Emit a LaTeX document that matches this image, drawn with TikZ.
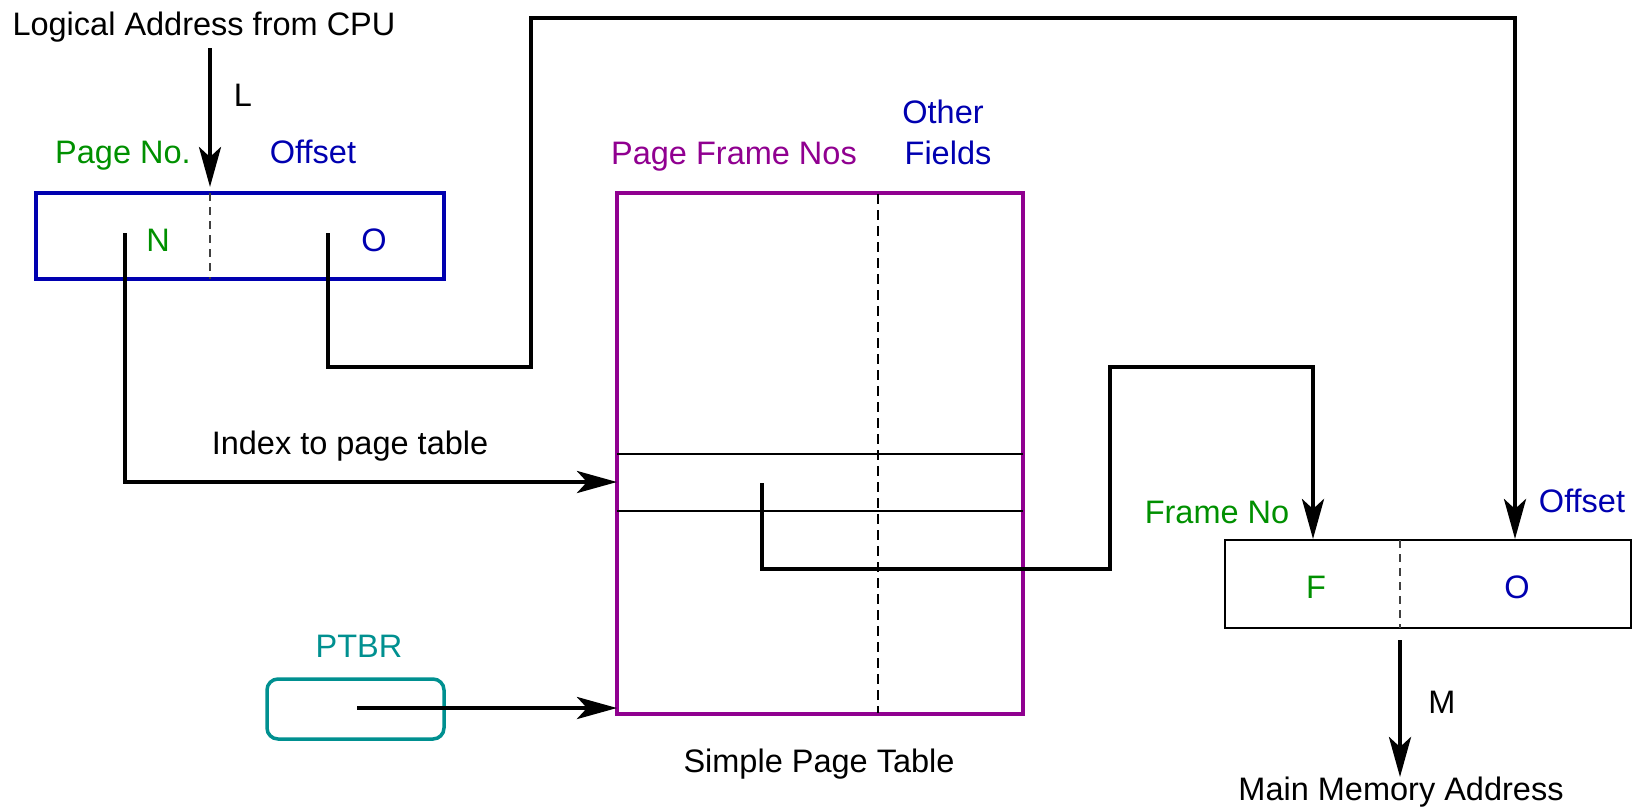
\documentclass[tikz,border=0pt]{standalone}
\usepackage{fontspec}
\setmainfont{Liberation Sans}
\usetikzlibrary{arrows.meta}

\definecolor{pgreen}{HTML}{009000}
\definecolor{pblue}{HTML}{0000B0}
\definecolor{ppurple}{HTML}{900090}
\definecolor{pteal}{HTML}{009090}

\tikzset{
  lbl/.style={inner sep=0pt, anchor=base, font=\fontsize{16.25}{20.5}\selectfont},
  boxnode/.style={rectangle, inner sep=0pt, outer sep=0pt},
  wire/.style={line width=2.25pt, line join=miter},
  arrowwire/.style={wire, -{Stealth[length=20pt, width=11pt, inset=5pt]}},
  rowline/.style={line width=0.65pt},
  thindash/.style={line width=0.6pt, draw=black!75, dash pattern=on 4pt off 3pt},
  tabledash/.style={line width=0.75pt, dash pattern=on 5pt off 3pt},
}

\begin{document}
\begin{tikzpicture}[x=0.5pt, y=-0.5pt]
\useasboundingbox (0,0) rectangle (1633,810);

% logical address register
\node[boxnode, draw=pblue, line width=1.75pt, minimum width=204pt, minimum height=43pt] (addr) at (240,236) {};
\draw[thindash] (210,193) -- (210,279);

% page table
\node[boxnode, draw=ppurple, line width=1.75pt, minimum width=203pt, minimum height=260.5pt] (table) at (820,453.5) {};
\draw[tabledash] (878,194) -- (878,713);
\draw[rowline] (617,454) -- (1023,454);
\draw[rowline] (617,511) -- (1023,511);

% physical address register
\node[boxnode, draw=black, line width=0.65pt, minimum width=203pt, minimum height=44pt] (phys) at (1428,584) {};
\draw[thindash] (1400,540) -- (1400,628);

% page table base register
\node[boxnode, draw=pteal, line width=1.75pt, rounded corners=5.5pt, minimum width=88.5pt, minimum height=30pt] (ptbr) at (355.5,709) {};

% connector end points
\coordinate (lsrc) at (210,48);
\coordinate (ltip) at (210,187);
\coordinate (nsrc) at (125,233);
\coordinate (idx) at (617,482);
\coordinate (osrc) at (328,233);
\coordinate (otip) at (1515,539);
\coordinate (fsrc) at (762,483);
\coordinate (ftip) at (1313,539);
\coordinate (psrc) at (357,708);
\coordinate (pbase) at (617,708);
\coordinate (msrc) at (1400,640);
\coordinate (mtip) at (1400,777);

% connectors
\draw[arrowwire] (lsrc) -- (ltip);
\draw[arrowwire] (nsrc) |- (idx);
\draw[arrowwire] (osrc) -- (328,367) -- (531,367) -- (531,18) -- (1515,18) -- (otip);
\draw[arrowwire] (fsrc) -- (762,569) -- (1110,569) -- (1110,367) -- (1313,367) -- (ftip);
\draw[arrowwire] (psrc) -- (pbase);
\draw[arrowwire] (msrc) -- (mtip);

% labels
\node[lbl] (tcpu) at (204,35) {Logical Address from CPU};
\node[lbl] (tl) at (243,106) {L};
\node[lbl, text=pgreen] (tpage) at (123,163) {Page No.};
\node[lbl, text=pblue] (toff) at (313,163) {Offset};
\node[lbl, text=pgreen] (tn) at (158,251) {N};
\node[lbl, text=pblue] (to) at (374,251) {O};
\node[lbl, text=ppurple] (tpfn) at (734,164) {Page Frame Nos};
\node[lbl, text=pblue] (tother) at (943,123) {Other};
\node[lbl, text=pblue] (tfields) at (948,164) {Fields};
\node[lbl] (tindex) at (350,454) {Index to page table};
\node[lbl, text=pteal] (tptbr) at (359,657) {PTBR};
\node[lbl] (tspt) at (819,772) {Simple Page Table};
\node[lbl, text=pgreen] (tframe) at (1217,523) {Frame No};
\node[lbl, text=pblue] (toff2) at (1582,512) {Offset};
\node[lbl, text=pgreen] (tf) at (1316,598) {F};
\node[lbl, text=pblue] (to2) at (1517,598) {O};
\node[lbl] (tm) at (1442,713) {M};
\node[lbl] (tmain) at (1401,800) {Main Memory Address};
\end{tikzpicture}
\end{document}
